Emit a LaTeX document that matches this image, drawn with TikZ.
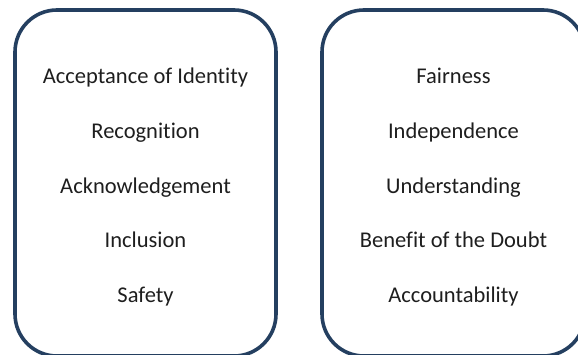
\documentclass[tikz,border=0pt]{standalone}
\usepackage{fontspec}
\setmainfont[Ligatures={NoCommon,NoRare}]{Carlito}
\definecolor{boxblue}{HTML}{243F60}
\definecolor{txt}{HTML}{1E1E1E}
\begin{document}
\begin{tikzpicture}[x=1pt,y=-1pt,
  framebox/.style={draw=boxblue,line width=3.6pt,rounded corners=42pt},
  lbl/.style={anchor=base,text=txt,font=\fontsize{22.5}{26}\selectfont,inner sep=0pt}]
\useasboundingbox (0,0) rectangle (578,355);
\begin{scope}
\clip (0,0) rectangle (578,355);
\draw[framebox] (15,10) rectangle (276,356);
\draw[framebox] (322,10) rectangle (585,356);
\end{scope}
\node[lbl] (l1) at (145.5,84) {Acceptance of Identity};
\node[lbl] (l2) at (145.5,139) {Recognition};
\node[lbl] (l3) at (145.5,193.5) {Acknowledgement};
\node[lbl] (l4) at (145.5,248) {Inclusion};
\node[lbl] (l5) at (145.5,302) {Safety};
\node[lbl] (r1) at (453.5,84) {Fairness};
\node[lbl] (r2) at (453.5,139) {Independence};
\node[lbl] (r3) at (453.5,193.5) {Understanding};
\node[lbl] (r4) at (453.5,248) {Benefit of the Doubt};
\node[lbl] (r5) at (453.5,302) {Accountability};
\end{tikzpicture}
\end{document}
